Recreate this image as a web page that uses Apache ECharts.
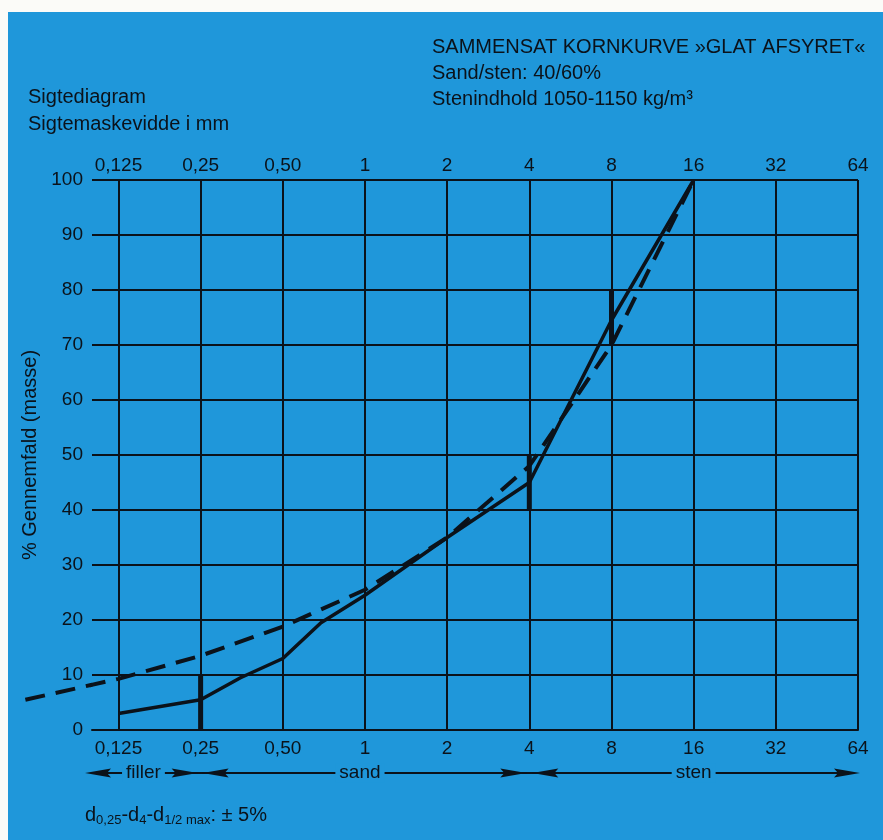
<!DOCTYPE html>
<html><head><meta charset="utf-8">
<script src="https://cdn.jsdelivr.net/npm/echarts@6/dist/echarts.min.js"></script>
<style>html,body{margin:0;padding:0;background:#fff}#c{width:883px;height:840px}</style>
</head><body><div id="c"></div>
<script>
// ---- data ----
const sieveSizes  = [0.125, 0.25, 0.5, 1, 2, 4, 8, 16, 32, 64];
const sieveLabels = ['0,125', '0,25', '0,50', '1', '2', '4', '8', '16', '32', '64'];
const solidSize   = [0.125, 0.25, 0.35, 0.5, 0.69, 1, 2, 4, 8, 16];
const solidPass   = [3, 5.5, 9.5, 13, 19.5, 24.5, 35, 45, 74.5, 100];
const dashedSize  = [0.057, 0.125, 0.25, 0.5, 1, 2, 4, 8, 16];
const dashedPass  = [5.5, 9.3, 13.5, 18.8, 25.5, 35, 48, 70, 100];
const tolSize = [0.25, 4, 8];
const tolLow  = [0, 40, 70];
const tolHigh = [10, 50, 80];
const yMin = 0, yMax = 100, yStep = 10;
const xMinSize = 0.1;

// ---- styling ----
const ink = '#0b121a';
const blue = '#1f97da';
const font = "'Liberation Sans', Arial, Helvetica, sans-serif";
const L = v => Math.log2(v);
const tickVals = sieveSizes.map(L);
const labelFor = v => {
  const i = tickVals.findIndex(t => Math.abs(t - v) < 1e-6);
  return i >= 0 ? sieveLabels[i] : '';
};
const dashPattern = [20, 11];

const chart = echarts.init(document.getElementById('c'));
const series = [
  { name: 'solid', type: 'line', clip: false, symbol: 'none', z: 5,
    data: solidSize.map((s, i) => [L(s), solidPass[i]]),
    lineStyle: { color: ink, width: 3.5 } },
  { name: 'dashed', type: 'line', clip: false, symbol: 'none', z: 5,
    data: dashedSize.map((s, i) => [L(s), dashedPass[i]]),
    lineStyle: { color: ink, width: 4, type: dashPattern } }
];
tolSize.forEach((s, i) => series.push({
  name: 'tol' + i, type: 'line', clip: false, symbol: 'none', z: 6,
  data: [[L(s), tolLow[i]], [L(s), tolHigh[i]]],
  lineStyle: { color: ink, width: 5, cap: 'butt' }
}));

const baseX = {
  type: 'value', min: L(xMinSize), max: L(64),
  axisTick: { show: false, customValues: tickVals },
  axisLabel: { customValues: tickVals, formatter: labelFor, color: ink, fontSize: 19, fontFamily: font }
};

chart.setOption({
  backgroundColor: blue,
  animation: false,
  grid: { left: 92, right: 25, top: 180, bottom: 110 },
  xAxis: [
    Object.assign({}, baseX, { position: 'bottom',
      axisLine: { show: true, onZero: false, lineStyle: { color: ink, width: 2 } },
      axisLabel: Object.assign({}, baseX.axisLabel, { margin: 9 }),
      splitLine: { show: true, lineStyle: { color: ink, width: 2 } } }),
    Object.assign({}, baseX, { position: 'top',
      axisLine: { show: false },
      axisLabel: Object.assign({}, baseX.axisLabel, { margin: 5 }),
      splitLine: { show: false } })
  ],
  yAxis: {
    type: 'value', min: yMin, max: yMax, interval: yStep,
    axisLine: { show: true, lineStyle: { color: ink, width: 2 } },
    axisTick: { show: false },
    axisLabel: { color: ink, fontSize: 19, fontFamily: font, margin: 9 },
    splitLine: { show: true, lineStyle: { color: ink, width: 2 } },
    name: '% Gennemfald (masse)', nameLocation: 'middle', nameGap: 46,
    nameTextStyle: { color: ink, fontSize: 20, fontFamily: font }
  },
  series: series
});

// dashed curve part that runs out of the plot on the left (through the axis scale)
const toPx = (x, y) => chart.convertToPixel({ gridIndex: 0 }, [L(x), y]);
const p0 = toPx(dashedSize[0], dashedPass[0]);
const p1 = toPx(dashedSize[1], dashedPass[1]);
const xl = chart.convertToPixel({ xAxisIndex: 0 }, L(xMinSize));
const t = (xl - p0[0]) / (p1[0] - p0[0]);
const pe = [xl, p0[1] + t * (p1[1] - p0[1])];

// annotations
const px = v => chart.convertToPixel({ xAxisIndex: 0 }, L(v));
const ay = 773;
const ah = (tip, dir) => ({ type: 'polygon', z: 20,
  shape: { points: [[tip, ay], [tip - dir * 26, ay - 4.5], [tip - dir * 22, ay], [tip - dir * 26, ay + 4.5]] },
  style: { fill: ink } });
const leftEnd = px(xMinSize) - 7, rightEnd = px(64) + 2;
const txt = (x, y, s, size, align) => ({ type: 'text', z: 20, x: x, y: y,
  style: { text: s, fill: ink, font: (size || 19) + 'px ' + font, textAlign: align || 'left', textVerticalAlign: 'middle' } });
const lbl = (x, s) => ({ type: 'text', z: 21, x: x, y: ay,
  style: { text: s, fill: ink, font: '19px ' + font, textAlign: 'center', textVerticalAlign: 'middle',
    backgroundColor: blue, padding: [0, 4] } });

chart.setOption({
  graphic: [
    { type: 'rect', z: 30, shape: { x: 0, y: 0, width: 883, height: 12 }, style: { fill: '#fbfbf8' } },
    { type: 'rect', z: 30, shape: { x: 0, y: 0, width: 8, height: 840 }, style: { fill: '#fbfbf8' } },
    { type: 'polyline', z: 15, shape: { points: [p0, pe] },
      style: { stroke: ink, lineWidth: 4, lineDash: dashPattern, fill: null } },
    txt(432, 47, 'SAMMENSAT KORNKURVE »GLAT AFSYRET«', 20),
    txt(432, 73, 'Sand/sten: 40/60%', 20),
    txt(432, 99, 'Stenindhold 1050-1150 kg/m³', 20),
    txt(28, 97, 'Sigtediagram', 20),
    txt(28, 124, 'Sigtemaskevidde i mm', 20),
    { type: 'line', z: 19, shape: { x1: leftEnd + 10, y1: ay, x2: rightEnd - 10, y2: ay }, style: { stroke: ink, lineWidth: 2 } },
    ah(leftEnd, -1), ah(px(0.25) - 3, 1), ah(px(0.25) + 2, -1),
    ah(px(4) - 3, 1), ah(px(4) + 3, -1), ah(rightEnd, 1),
    lbl(px(0.125) + 25, 'filler'), lbl(px(1) - 5, 'sand'), lbl(px(16), 'sten'),
    { type: 'text', z: 20, x: 85, y: 815,
      style: { text: 'd{s|0,25}-d{s|4}-d{s|1/2 max}: ± 5%', fill: ink, font: '20px ' + font,
        textVerticalAlign: 'middle',
        rich: { s: { fontSize: 13, fontFamily: font, fill: ink, padding: [10, 0, 0, 0] } } } }
  ]
});
</script></body></html>
